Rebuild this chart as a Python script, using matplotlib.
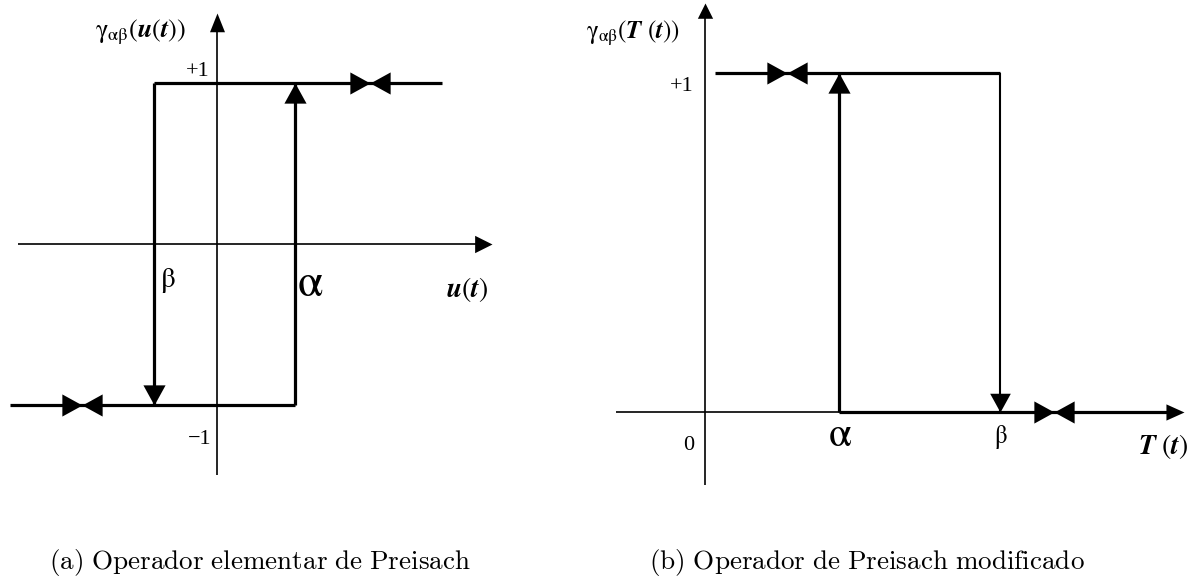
import numpy as np
import matplotlib
matplotlib.use("Agg")
from matplotlib import pyplot as plt

plt.rcParams["mathtext.fontset"] = "stix"
plt.rcParams["font.family"] = ["Liberation Serif", "DejaVu Serif"]

# (a) elementary Preisach operator: switching thresholds and output levels
hyst_thresholds = {"alpha": 1.0, "beta": -0.8}
hyst_levels = [-1.0, 1.0]
hyst_ticks = ["\u22121", "+1"]

# (b) modified operator: output switches between 0 and +1
mod_thresholds = {"alpha": 1.0, "beta": 2.2}
mod_levels = [0.0, 1.0]
mod_ticks = ["0", "+1"]

captions = [r"$\mathrm{(a)\ Operador\ elementar\ de\ Preisach}$",
            r"$\mathrm{(b)\ Operador\ de\ Preisach\ modificado}$"]

W, H = 1192, 580
fig = plt.figure(figsize=(W / 100, H / 100), dpi=100)
fig.patch.set_facecolor("white")

LW_LOOP = 2.3
LW_AXIS = 1.2


def tri_marker(direction, ratio=0.55):
    # triangle whose tip sits on the plotted point
    base = {"up": [(0, 0), (-ratio, -1), (ratio, -1)],
            "down": [(0, 0), (-ratio, 1), (ratio, 1)],
            "right": [(0, 0), (-1, ratio), (-1, -ratio)],
            "left": [(0, 0), (1, ratio), (1, -ratio)]}
    return base[direction]


BOWTIE = [(0, 0), (-1, 0.55), (-1, -0.55), (0, 0), (1, 0.55), (1, -0.55)]


def mark(ax, x, y, verts, ms):
    ax.plot([x], [y], marker=verts, ms=ms, color="black", mew=0,
            linestyle="none", clip_on=False, zorder=5)


def line(ax, xs, ys, lw):
    ax.plot(xs, ys, color="black", lw=lw, solid_capstyle="butt", clip_on=False)


def label(ax, text, xy, off, size):
    ax.annotate(text, xy, xytext=off, textcoords="offset points",
                ha="center", va="center", fontsize=size)


def make_axes(left_px, width_px, x0_px, xscale, y0_px, yscale, top_px=0, bottom_px=500):
    ax = fig.add_axes([left_px / W, (H - bottom_px) / H, width_px / W, (bottom_px - top_px) / H])
    ax.set_xlim((left_px - x0_px) / xscale, (left_px + width_px - x0_px) / xscale)
    ax.set_ylim((y0_px - bottom_px) / yscale, (y0_px - top_px) / yscale)
    ax.axis("off")
    return ax


# ---- panel (a) ----
ax1 = make_axes(0, 500, 216.7, 78.5, 244, 161)
a, b = hyst_thresholds["alpha"], hyst_thresholds["beta"]
lo, hi = hyst_levels

# coordinate axes
line(ax1, [0, 0], [-1.435, 1.40], LW_AXIS)
mark(ax1, 0, 1.435, tri_marker("up", 0.4), 27)
line(ax1, [-2.53, 3.45], [0, 0], LW_AXIS)
mark(ax1, 3.51, 0, tri_marker("right", 0.5), 25)

# hysteresis loop
line(ax1, [b, 2.87], [hi, hi], LW_LOOP)
line(ax1, [-2.63, a], [lo, lo], LW_LOOP)
line(ax1, [b, b], [hi, lo], LW_LOOP)
line(ax1, [a, a], [lo, hi], LW_LOOP)
mark(ax1, b, lo, tri_marker("down"), 29)
mark(ax1, a, hi, tri_marker("up"), 29)
mark(ax1, 1.95, hi, BOWTIE, 29)
mark(ax1, -1.72, lo, BOWTIE, 29)

label(ax1, hyst_ticks[1], (0, hi), (-14, 8), 16)
label(ax1, hyst_ticks[0], (0, lo), (-12, -25), 16)
label(ax1, r"$\mathrm{\beta}$", (b, 0), (10, -26), 21)
label(ax1, r"$\mathrm{\alpha}$", (a, 0), (11, -29), 33)
label(ax1, r"$\boldsymbol{u}(\boldsymbol{t})$", (3.51, 0), (-18, -33), 20)
label(ax1, r"$\mathrm{\gamma}_{\mathrm{\alpha\beta}}(\boldsymbol{u}(\boldsymbol{t}))$",
      (0, 1.435), (-55, -14), 19)

# ---- panel (b) ----
ax2 = make_axes(580, 612, 705, 134, 412, 339)
a, b = mod_thresholds["alpha"], mod_thresholds["beta"]
lo, hi = mod_levels

line(ax2, [0, 0], [-0.215, 1.18], LW_AXIS)
mark(ax2, 0, 1.206, tri_marker("up", 0.5), 22)
line(ax2, [-0.664, 3.50], [lo, lo], LW_AXIS)
mark(ax2, 3.575, lo, tri_marker("right", 0.45), 26)

line(ax2, [0.075, b], [hi, hi], LW_LOOP)
line(ax2, [a, 3.50], [lo, lo], LW_LOOP)
line(ax2, [a, a], [lo, hi], LW_LOOP)
line(ax2, [b, b], [hi, lo], 1.5)
mark(ax2, a, hi, tri_marker("up"), 29)
mark(ax2, b, lo, tri_marker("down"), 27)
mark(ax2, 0.612, hi, BOWTIE, 29)
mark(ax2, 2.604, lo, BOWTIE, 29)

label(ax2, mod_ticks[1], (0, hi), (-17, -10), 16)
label(ax2, mod_ticks[0], (0, lo), (-12, -24), 16)
label(ax2, r"$\mathrm{\alpha}$", (a, lo), (1, -17), 30)
label(ax2, r"$\mathrm{\beta}$", (b, lo), (1, -18), 18)
label(ax2, r"$\boldsymbol{T}\ (\boldsymbol{t})$", (3.575, lo), (-15, -25), 20)
label(ax2, r"$\mathrm{\gamma}_{\mathrm{\alpha\beta}}(\boldsymbol{T}\ (\boldsymbol{t}))$",
      (0, 1.206), (-52, -22), 18)

# captions under each panel
plt.rcParams["mathtext.fontset"] = "cm"
fig.text(260 / W, 1 - 563 / H, captions[0], ha="center", va="center", fontsize=19.5)
fig.text(867 / W, 1 - 563 / H, captions[1], ha="center", va="center", fontsize=19.5)

fig.savefig("out.png", dpi=100, facecolor="white")
